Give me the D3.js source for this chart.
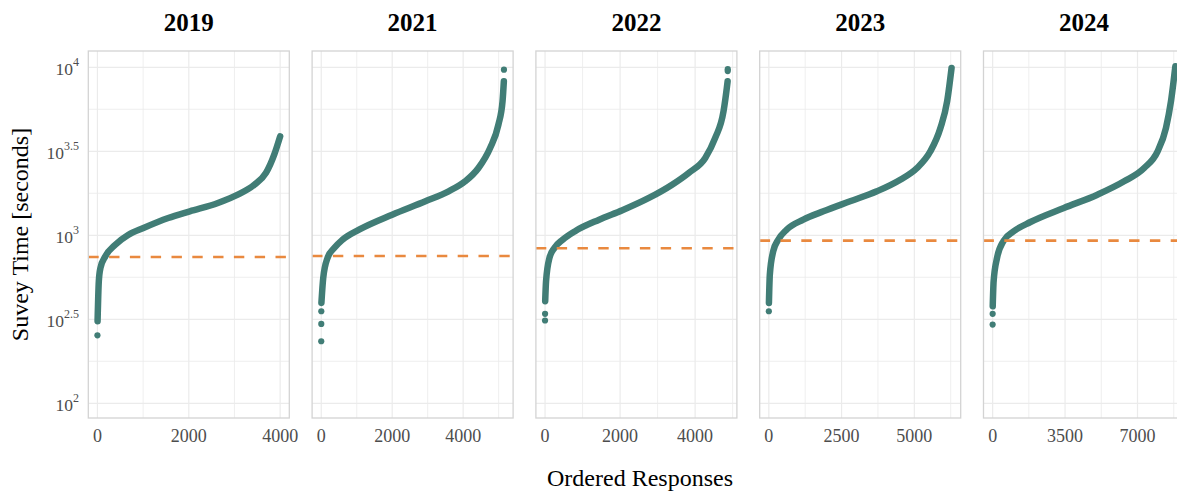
<!DOCTYPE html>
<html>
<head>
<meta charset="utf-8">
<script src="https://cdn.jsdelivr.net/npm/d3@7"></script>
<style>
  html, body { margin: 0; padding: 0; background: #fff; }
  svg { display: block; }
</style>
</head>
<body>
<svg id="chart" width="1177" height="491"></svg>
<script>
// ---------------- DATA ----------------
const years = ["2019", "2021", "2022", "2023", "2024"];
const responseCounts = [4000, 5150, 4870, 6280, 8830];
const dashedLineSeconds = [743, 753, 837, 929, 929];

const xTickValues = [
  [0, 2000, 4000],
  [0, 2000, 4000],
  [0, 2000, 4000],
  [0, 2500, 5000],
  [0, 3500, 7000]
];
const yTickExponents = ["2", "2.5", "3", "3.5", "4"];
const yMinorExponents = [2.25, 2.75, 3.25, 3.75];

// sorted survey times: rank (ordered response) and seconds along the dense strip
const ranks2019 = [3, 30, 65, 174, 391, 680, 1007, 1550, 2022, 2637, 3072, 3435, 3689, 3870, 4000];
const secs2019  = [308, 532, 638, 750, 879, 1008, 1105, 1267, 1389, 1557, 1745, 2001, 2350, 3020, 3882];
const ranks2021 = [5, 56, 177, 365, 598, 1066, 2000, 2936, 3590, 4058, 4431, 4760, 4993, 5110, 5147];
const secs2021  = [396, 557, 733, 840, 941, 1080, 1326, 1594, 1828, 2096, 2516, 3311, 4553, 6276, 8257];
const ranks2022 = [4, 27, 117, 249, 469, 822, 1443, 2060, 2768, 3386, 3829, 4270, 4535, 4757, 4845, 4866];
const secs2022  = [405, 532, 733, 840, 941, 1065, 1239, 1409, 1668, 2000, 2350, 2886, 3796, 5470, 7540, 8257];
const ranks2023 = [3, 34, 150, 323, 610, 1185, 1875, 2793, 3713, 4517, 5093, 5552, 5897, 6128, 6280];
const secs2023  = [396, 582, 803, 941, 1080, 1239, 1389, 1594, 1828, 2142, 2516, 3162, 4355, 6276, 9910];
const ranks2024 = [4, 48, 213, 533, 1018, 1828, 3444, 5063, 6355, 7323, 7973, 8376, 8618, 8830];
const secs2024  = [378, 532, 733, 929, 1056, 1200, 1455, 1745, 2096, 2516, 3162, 4355, 6276, 10140];

// isolated responses (single visible dots)
const outRanks2019 = [0];              const outSecs2019 = [254];
const outRanks2021 = [0, 1, 2, 5150];  const outSecs2021 = [234, 297, 353, 9683];
const outRanks2022 = [0, 1, 4869, 4870]; const outSecs2022 = [311, 341, 9500, 9750];
const outRanks2023 = [0];              const outSecs2023 = [353];
const outRanks2024 = [0, 1];           const outSecs2024 = [294, 341];

const curveRanks = [ranks2019, ranks2021, ranks2022, ranks2023, ranks2024];
const curveSecs  = [secs2019, secs2021, secs2022, secs2023, secs2024];
const outlierRanks = [outRanks2019, outRanks2021, outRanks2022, outRanks2023, outRanks2024];
const outlierSecs  = [outSecs2019, outSecs2021, outSecs2022, outSecs2023, outSecs2024];

// ---------------- LAYOUT ----------------
const svg = d3.select("#chart");
const panelLeft0 = 88.3, panelStep = 223.8, panelW = 201;
const panelTop = 51, panelBottom = 418;
const teal = "#417D76", orange = "#E9893F";
const gridColor = "#EBEBEB", borderColor = "#D3D3D3";
const serif = "'Liberation Serif', 'Times New Roman', serif";

const y = d3.scaleLog()
  .domain([Math.pow(10, 1.9125), Math.pow(10, 4.097)])
  .range([panelBottom, panelTop]);

const defs = svg.append("defs");

years.forEach((yr, i) => {
  const n = responseCounts[i];
  const left = panelLeft0 + i * panelStep;
  const x = d3.scaleLinear()
    .domain([-0.05 * n, 1.05 * n])
    .range([left, left + panelW]);

  defs.append("clipPath").attr("id", "clip" + i)
    .append("rect").attr("x", left).attr("y", panelTop)
    .attr("width", panelW).attr("height", panelBottom - panelTop);

  const g = svg.append("g");

  // minor grid
  const majors = xTickValues[i];
  const step = majors[1] - majors[0];
  const xMinor = [];
  for (let v = -step / 2; v <= 1.05 * n; v += step) {
    if (v >= -0.05 * n) xMinor.push(v);
  }
  g.selectAll(".xminor").data(xMinor).join("line")
    .attr("x1", d => x(d)).attr("x2", d => x(d))
    .attr("y1", panelTop).attr("y2", panelBottom)
    .attr("stroke", gridColor).attr("stroke-width", 0.8);
  g.selectAll(".yminor").data(yMinorExponents).join("line")
    .attr("x1", left).attr("x2", left + panelW)
    .attr("y1", d => y(Math.pow(10, d))).attr("y2", d => y(Math.pow(10, d)))
    .attr("stroke", gridColor).attr("stroke-width", 0.8);

  // major grid
  g.selectAll(".xmajor").data(majors).join("line")
    .attr("x1", d => x(d)).attr("x2", d => x(d))
    .attr("y1", panelTop).attr("y2", panelBottom)
    .attr("stroke", gridColor).attr("stroke-width", 1.2);
  g.selectAll(".ymajor").data(yTickExponents).join("line")
    .attr("x1", left).attr("x2", left + panelW)
    .attr("y1", d => y(Math.pow(10, +d))).attr("y2", d => y(Math.pow(10, +d)))
    .attr("stroke", gridColor).attr("stroke-width", 1.2);

  const marks = g.append("g").attr("clip-path", `url(#clip${i})`);

  // sorted responses strip
  const pts = curveRanks[i].map((r, k) => [r, curveSecs[i][k]]);
  const line = d3.line()
    .x(d => x(d[0])).y(d => y(d[1]))
    .curve(d3.curveMonotoneX);
  marks.append("path").datum(pts)
    .attr("d", line)
    .attr("fill", "none")
    .attr("stroke", teal)
    .attr("stroke-width", 6.5)
    .attr("stroke-linecap", "round")
    .attr("stroke-linejoin", "round");

  const outs = outlierRanks[i].map((r, k) => [r, outlierSecs[i][k]]);
  marks.selectAll(".out").data(outs).join("circle")
    .attr("cx", d => x(d[0])).attr("cy", d => y(d[1]))
    .attr("r", 3.1).attr("fill", teal);

  // dashed reference line
  marks.append("line")
    .attr("x1", left).attr("x2", left + panelW)
    .attr("y1", y(dashedLineSeconds[i])).attr("y2", y(dashedLineSeconds[i]))
    .attr("stroke", orange).attr("stroke-width", 2.6)
    .attr("stroke-dasharray", "10.4 10.4");

  // border
  g.append("rect")
    .attr("x", left).attr("y", panelTop)
    .attr("width", panelW).attr("height", panelBottom - panelTop)
    .attr("fill", "none").attr("stroke", borderColor).attr("stroke-width", 1.3);

  // x tick labels
  g.selectAll(".xlab").data(majors).join("text")
    .attr("x", d => x(d)).attr("y", 442)
    .attr("text-anchor", "middle")
    .attr("font-family", serif).attr("font-size", 18)
    .attr("fill", "#4D4D4D")
    .text(d => d);

  // panel title
  svg.append("text")
    .attr("x", left + panelW / 2).attr("y", 31)
    .attr("text-anchor", "middle")
    .attr("font-family", serif).attr("font-weight", "bold")
    .attr("font-size", 25).attr("fill", "#000")
    .text(yr);
});

// y tick labels (first panel only)
const yl = svg.append("g");
yTickExponents.forEach(e => {
  const t = yl.append("text")
    .attr("x", 79).attr("y", y(Math.pow(10, +e)) + 8)
    .attr("text-anchor", "end")
    .attr("font-family", serif).attr("fill", "#4D4D4D");
  t.append("tspan").attr("font-size", 17.5).text("10");
  t.append("tspan").attr("font-size", 12).attr("dy", -9).text(e);
});

// axis titles
svg.append("text")
  .attr("x", 640).attr("y", 486)
  .attr("text-anchor", "middle")
  .attr("font-family", serif).attr("font-size", 24).attr("fill", "#000")
  .text("Ordered Responses");

svg.append("text")
  .attr("transform", "translate(28," + ((panelTop + panelBottom) / 2) + ") rotate(-90)")
  .attr("text-anchor", "middle")
  .attr("font-family", serif).attr("font-size", 24).attr("fill", "#000")
  .text("Suvey Time [seconds]");
</script>
</body>
</html>
